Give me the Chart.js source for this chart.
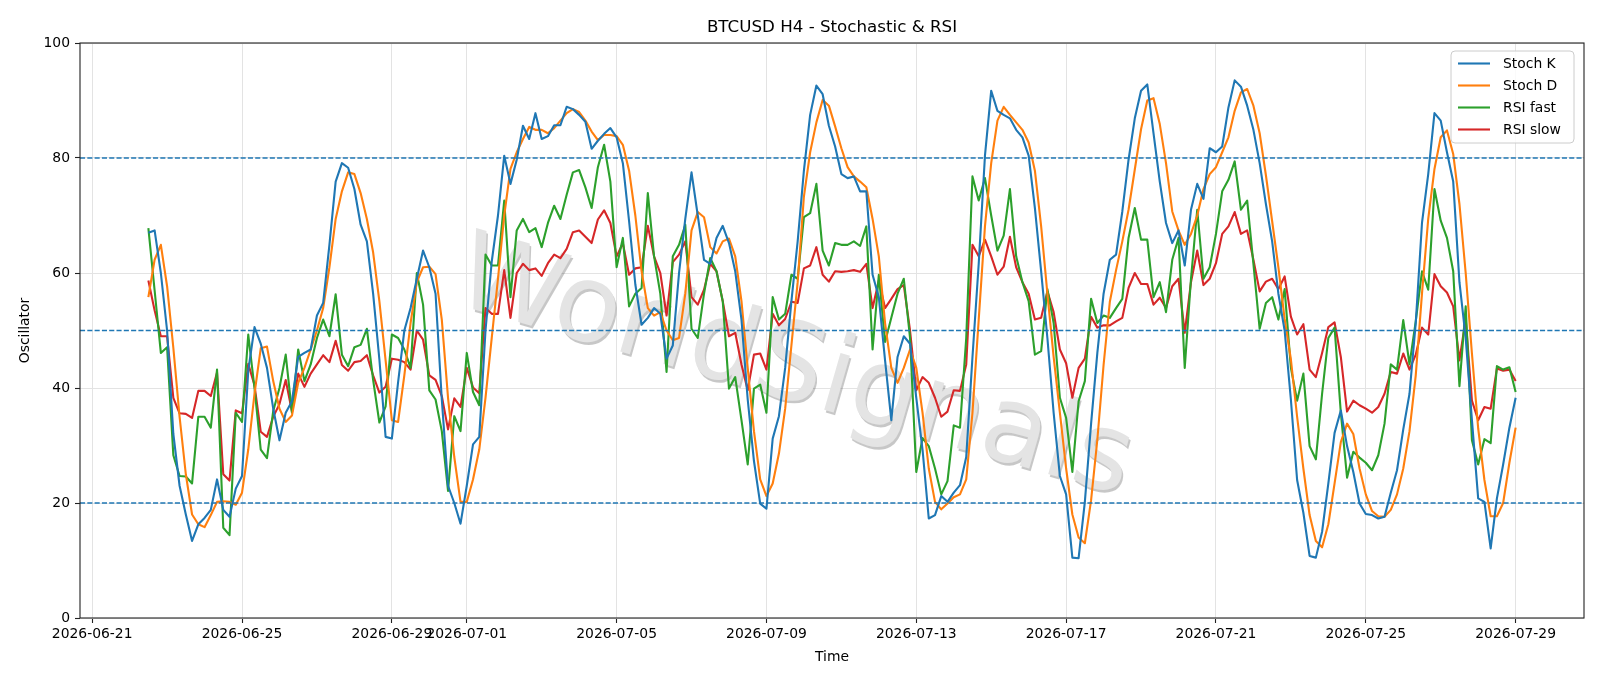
<!DOCTYPE html>
<html>
<head>
<meta charset="utf-8">
<title>BTCUSD H4 - Stochastic & RSI</title>
<script src="https://cdn.jsdelivr.net/npm/chart.js@4.4.1/dist/chart.umd.min.js"></script>
<style>
  html, body { margin: 0; padding: 0; background: #fff; }
  canvas { display: block; }
</style>
</head>
<body>
<canvas id="oscChart" width="1600" height="686"></canvas>
<script>
// H4 bars, first one at 2026-06-22 12:00 UTC
const firstBar = '2026-06-22T12:00:00Z';
const barHours = 4;

const tickLabels = ['2026-06-21', '2026-06-25', '2026-06-29', '2026-07-01', '2026-07-05', '2026-07-09',
    '2026-07-13', '2026-07-17', '2026-07-21', '2026-07-25', '2026-07-29'];
const yTicks = [0, 20, 40, 60, 80, 100];
const levels = [80, 50, 20];

const stochK = [
    67.0, 67.4, 60.0, 50.0, 32.0, 23.0, 18.0, 13.4, 16.3, 17.4, 18.8, 24.1,
    18.8, 17.6, 22.5, 24.7, 43.0, 50.6, 47.7, 43.5, 36.4, 30.9, 35.7, 37.7,
    45.4, 46.1, 46.7, 52.6, 54.8, 64.9, 75.9, 79.1, 78.3, 74.6, 68.4, 65.5,
    56.4, 45.0, 31.5, 31.2, 41.0, 50.0, 53.9, 59.0, 63.9, 61.0, 56.4, 38.0,
    23.0, 20.0, 16.4, 23.0, 30.2, 31.5, 50.0, 62.0, 70.0, 80.4, 75.5, 79.7,
    85.6, 83.3, 87.8, 83.3, 83.8, 85.7, 85.7, 88.9, 88.5, 87.5, 86.3, 81.6,
    83.0, 84.2, 85.2, 83.6, 79.1, 69.0, 58.0, 51.0, 52.2, 53.9, 52.9, 45.1,
    47.4, 60.0, 69.4, 77.5, 70.0, 62.3, 61.6, 66.1, 68.2, 65.2, 60.3, 51.9,
    38.0, 27.3, 19.9, 19.0, 31.2, 35.1, 43.5, 55.1, 65.5, 77.8, 87.5, 92.6,
    91.1, 85.6, 82.0, 77.2, 76.5, 76.8, 74.2, 74.2, 59.7, 55.8, 44.8, 34.4,
    45.4, 49.0, 47.7, 38.3, 29.3, 17.3, 17.9, 21.2, 20.2, 21.8, 23.1, 28.0,
    45.4, 61.6, 80.4, 91.7, 88.2, 87.5, 86.9, 84.9, 83.6, 80.4, 71.3, 60.3,
    48.7, 35.7, 24.7, 21.5, 10.5, 10.4, 20.2, 33.8, 46.1, 56.4, 62.3, 63.2,
    70.7, 79.7, 86.9, 91.7, 92.8, 84.3, 75.9, 68.7, 65.2, 67.4, 61.3, 71.0,
    75.5, 72.9, 81.7, 81.0, 82.0, 88.8, 93.5, 92.4, 89.1, 84.9, 79.1, 72.0,
    65.5, 56.4, 50.0, 38.0, 24.0, 18.3, 10.8, 10.5, 15.0, 23.4, 32.2, 36.1,
    29.9, 25.4, 19.9, 18.1, 17.9, 17.3, 17.6, 21.8, 25.7, 32.8, 39.0, 51.3,
    68.7, 77.2, 87.8, 86.5, 81.0, 75.9, 58.4, 48.7, 34.4, 20.8, 20.2, 12.1,
    20.8, 26.7, 33.1, 38.3
];

const stochD = [
    55.8, 62.3, 64.9, 57.7, 47.0, 35.0, 25.0, 18.0, 16.3, 15.8, 17.9, 20.2,
    20.3, 20.2, 19.7, 21.8, 29.3, 39.0, 46.9, 47.2, 41.2, 36.4, 34.1, 35.2,
    40.9, 43.5, 46.7, 50.0, 53.9, 61.0, 69.4, 74.2, 77.5, 77.2, 73.9, 69.4,
    63.6, 55.1, 44.8, 34.4, 34.1, 42.2, 51.3, 58.4, 61.0, 61.1, 59.8, 51.9,
    38.3, 28.0, 20.2, 20.2, 24.1, 29.3, 38.3, 48.7, 59.0, 70.0, 78.1, 81.0,
    83.3, 85.4, 84.9, 84.9, 84.3, 85.2, 86.5, 87.8, 88.5, 88.0, 86.5, 84.6,
    83.1, 84.0, 84.0, 83.8, 82.3, 77.8, 70.0, 60.3, 53.9, 52.6, 53.2, 50.0,
    48.3, 48.7, 56.4, 67.4, 70.6, 69.7, 64.5, 63.4, 65.5, 66.0, 62.9, 55.1,
    43.5, 32.5, 24.1, 21.2, 23.4, 28.6, 36.4, 47.4, 58.4, 73.3, 81.0, 86.2,
    90.1, 89.1, 85.5, 81.7, 78.4, 76.8, 75.9, 74.9, 69.4, 62.9, 51.3, 43.5,
    40.9, 43.5, 46.7, 43.5, 35.7, 26.0, 20.2, 18.9, 19.9, 21.0, 21.5, 24.1,
    35.7, 51.9, 68.1, 79.1, 86.5, 88.9, 87.5, 86.2, 84.9, 82.7, 77.8, 68.1,
    56.4, 45.4, 35.7, 26.0, 18.0, 14.0, 13.0, 20.5, 31.0, 44.0, 55.0, 60.5,
    65.5, 71.0, 78.0, 85.0, 90.0, 90.4, 85.9, 79.1, 70.7, 67.4, 64.9, 66.8,
    70.0, 74.6, 77.2, 78.4, 81.0, 83.6, 88.2, 91.4, 92.0, 89.1, 84.3, 77.0,
    69.0, 61.0, 52.0, 45.0, 35.0, 26.0, 17.9, 13.4, 12.3, 16.3, 23.4, 30.6,
    33.8, 32.0, 26.0, 21.5, 18.6, 17.7, 17.6, 18.8, 21.5, 26.0, 32.5, 42.2,
    56.4, 69.4, 78.1, 83.6, 84.8, 80.7, 72.0, 60.0, 46.0, 33.0, 24.0, 17.7,
    17.7, 20.0, 27.0, 33.1
];

const rsiFast = [
    67.8, 57.0, 46.1, 47.1, 28.3, 24.7, 24.6, 23.4, 35.0, 35.0, 33.1, 43.2,
    15.7, 14.4, 35.7, 34.1, 49.3, 40.0, 29.3, 27.8, 36.0, 40.0, 45.8, 35.7,
    46.7, 41.2, 44.1, 48.7, 51.9, 49.0, 56.3, 45.8, 43.8, 47.1, 47.5, 50.3,
    41.4, 34.0, 36.8, 49.3, 48.7, 46.7, 43.5, 60.0, 54.5, 39.6, 38.0, 32.5,
    22.1, 35.1, 32.5, 46.1, 39.3, 37.0, 63.2, 61.3, 61.3, 72.6, 55.8, 67.4,
    69.4, 67.1, 67.8, 64.5, 68.7, 71.7, 69.4, 73.6, 77.5, 77.9, 74.9, 71.3,
    78.4, 82.3, 75.9, 61.0, 66.1, 54.2, 56.4, 57.4, 73.9, 62.9, 56.4, 42.8,
    62.9, 64.9, 68.4, 50.3, 48.7, 56.4, 62.6, 60.3, 55.1, 39.9, 41.9, 34.4,
    26.7, 39.9, 40.6, 35.7, 55.8, 51.9, 52.9, 59.7, 59.0, 69.7, 70.4, 75.5,
    63.9, 61.3, 65.2, 64.9, 64.9, 65.5, 64.7, 68.1, 46.7, 59.7, 48.0, 52.2,
    56.4, 59.0, 48.7, 25.4, 31.3, 29.9, 26.0, 21.5, 23.8, 33.5, 33.1, 48.7,
    76.8, 72.6, 76.5, 70.0, 63.9, 66.5, 74.6, 62.9, 58.4, 55.1, 45.8, 46.4,
    57.2, 51.3, 38.3, 34.8, 25.4, 37.7, 41.2, 55.5, 51.3, 52.6, 52.2, 53.9,
    55.5, 66.1, 71.3, 65.8, 65.8, 55.8, 58.4, 53.2, 62.3, 66.1, 43.5, 59.0,
    71.0, 59.0, 61.0, 66.8, 74.2, 76.2, 79.4, 71.0, 72.6, 61.6, 50.3, 54.8,
    55.8, 51.9, 57.2, 43.5, 37.8, 42.5, 29.9, 27.6, 39.0, 48.7, 50.5, 35.7,
    24.4, 28.9, 27.9, 27.0, 25.7, 28.3, 33.8, 44.1, 43.2, 51.8, 44.1, 51.6,
    60.3, 57.1, 74.6, 69.1, 66.1, 60.3, 40.3, 54.2, 30.9, 26.7, 31.1, 30.4,
    43.8, 43.2, 43.6, 39.3
];

const rsiSlow = [
    58.7, 53.5, 49.0, 49.0, 38.3, 35.6, 35.5, 34.8, 39.5, 39.5, 38.6, 42.7,
    25.0, 23.9, 36.1, 35.6, 44.2, 40.5, 32.4, 31.5, 35.0, 37.2, 41.4, 35.9,
    42.5, 40.2, 42.5, 44.1, 45.7, 44.5, 48.2, 44.0, 43.0, 44.5, 44.7, 45.7,
    42.2, 39.2, 40.2, 45.1, 44.9, 44.5, 43.2, 50.0, 48.4, 42.2, 41.4, 38.6,
    32.8, 38.2, 36.7, 43.5, 40.1, 39.1, 53.9, 52.9, 52.9, 60.5, 52.2, 60.0,
    61.6, 60.5, 60.8, 59.5, 61.7, 63.2, 62.6, 64.2, 67.1, 67.4, 66.3, 65.2,
    69.3, 70.9, 68.7, 62.9, 65.2, 59.7, 60.8, 61.0, 68.2, 62.9, 60.0, 52.6,
    61.9, 63.2, 65.5, 55.8, 54.5, 57.1, 61.6, 60.3, 55.1, 49.0, 49.6, 44.1,
    39.6, 45.8, 46.0, 43.2, 52.9, 50.9, 52.0, 55.0, 54.8, 60.8, 61.3, 64.5,
    59.7, 58.5, 60.3, 60.2, 60.3, 60.5, 60.2, 61.6, 53.9, 58.7, 53.9, 55.5,
    57.2, 57.9, 50.0, 39.6, 41.9, 40.9, 38.3, 35.0, 35.9, 39.6, 39.5, 44.1,
    64.9, 62.9, 65.8, 62.9, 59.7, 61.1, 66.3, 61.0, 58.4, 56.4, 51.9, 52.2,
    56.8, 53.2, 46.7, 44.3, 38.3, 43.5, 45.1, 52.4, 50.5, 50.9, 50.9, 51.6,
    52.2, 57.4, 60.0, 58.1, 58.1, 54.5, 55.7, 53.9, 57.7, 59.0, 49.6, 58.4,
    63.9, 57.9, 59.0, 61.7, 66.8, 68.1, 70.6, 66.8, 67.4, 62.3, 56.8, 58.5,
    59.0, 57.2, 59.4, 52.4, 49.3, 51.1, 43.2, 41.9, 46.1, 50.6, 51.4, 45.4,
    35.9, 37.8, 37.0, 36.4, 35.7, 36.7, 39.0, 42.8, 42.5, 46.0, 43.2, 45.8,
    50.5, 49.3, 59.8, 57.7, 56.6, 54.2, 44.8, 52.0, 37.8, 34.4, 36.7, 36.4,
    43.4, 43.0, 43.2, 41.2
];

const series = [
    { label: 'Stoch K', values: stochK, color: '#1f77b4' },
    { label: 'Stoch D', values: stochD, color: '#ff7f0e' },
    { label: 'RSI fast', values: rsiFast, color: '#2ca02c' },
    { label: 'RSI slow', values: rsiSlow, color: '#d62728' }
];

const FONT = "'DejaVu Sans', sans-serif";
const DAY = 86400000;
const origin = Date.parse(tickLabels[0] + 'T00:00:00Z');

// x axis in days since the first tick date
function toDays(ms) {
    return (ms - origin) / DAY;
}

const barStart = toDays(Date.parse(firstBar));
const barStep = barHours / 24;
const tickDays = tickLabels.map(t => toDays(Date.parse(t + 'T00:00:00Z')));

// matplotlib style 5% margins around the data
const lastBar = barStart + (stochK.length - 1) * barStep;
const span = lastBar - barStart;
const xMin = barStart - span * 0.05;
const xMax = lastBar + span * 0.05;

function toPoints(values) {
    return values.map((v, i) => ({ x: barStart + i * barStep, y: v }));
}

const watermarkPlugin = {
    id: 'watermark',
    beforeDatasetsDraw(chart) {
        const ctx = chart.ctx;
        ctx.save();
        ctx.translate(794, 372);
        ctx.rotate(16 * Math.PI / 180);
        ctx.font = '108px ' + FONT;
        ctx.textAlign = 'center';
        ctx.textBaseline = 'middle';
        ctx.fillStyle = 'rgba(0, 0, 0, 0.22)';
        ctx.fillText('WorldSignals', 2.2, 2.2);
        ctx.fillStyle = '#e4e4e4';
        ctx.fillText('WorldSignals', 0, 0);
        ctx.restore();
    }
};

const levelsPlugin = {
    id: 'levels',
    afterDatasetsDraw(chart) {
        const { ctx, chartArea, scales } = chart;
        ctx.save();
        ctx.strokeStyle = '#1f77b4';
        ctx.lineWidth = 1.3;
        ctx.setLineDash([5.1, 2.2]);
        levels.forEach(level => {
            const y = scales.y.getPixelForValue(level);
            ctx.beginPath();
            ctx.moveTo(chartArea.left, y);
            ctx.lineTo(chartArea.right, y);
            ctx.stroke();
        });
        ctx.setLineDash([]);

        // axes frame
        ctx.strokeStyle = '#222';
        ctx.lineWidth = 1.1;
        ctx.strokeRect(chartArea.left, chartArea.top, chartArea.right - chartArea.left, chartArea.bottom - chartArea.top);
        ctx.restore();
    }
};

const labelsPlugin = {
    id: 'labels',
    afterDraw(chart) {
        const { ctx, chartArea } = chart;
        const midX = (chartArea.left + chartArea.right) / 2;
        const midY = (chartArea.top + chartArea.bottom) / 2;
        ctx.save();
        ctx.fillStyle = '#000';
        ctx.textAlign = 'center';
        ctx.textBaseline = 'alphabetic';
        ctx.font = '16.7px ' + FONT;
        ctx.fillText('BTCUSD H4 - Stochastic & RSI', midX, 32);
        ctx.font = '13.9px ' + FONT;
        ctx.fillText('Time', midX, 661);
        ctx.translate(29, midY);
        ctx.rotate(-Math.PI / 2);
        ctx.fillText('Oscillator', 0, 0);
        ctx.restore();

        // legend, upper right inside the axes
        const box = { x: 1451, y: 51, w: 123, h: 92 };
        ctx.save();
        ctx.beginPath();
        ctx.roundRect(box.x, box.y, box.w, box.h, 4);
        ctx.fillStyle = 'rgba(255, 255, 255, 0.8)';
        ctx.fill();
        ctx.strokeStyle = '#cccccc';
        ctx.lineWidth = 1;
        ctx.stroke();
        ctx.font = '13.9px ' + FONT;
        ctx.textAlign = 'left';
        ctx.textBaseline = 'middle';
        series.forEach((s, i) => {
            const y = 63.5 + i * 22;
            ctx.strokeStyle = s.color;
            ctx.lineWidth = 2.1;
            ctx.beginPath();
            ctx.moveTo(1458, y);
            ctx.lineTo(1490, y);
            ctx.stroke();
            ctx.fillStyle = '#000';
            ctx.fillText(s.label, 1503, y + 1);
        });
        ctx.restore();
    }
};

const gridStyle = {
    color: '#e3e3e3',
    lineWidth: 1,
    tickColor: '#222',
    tickLength: 5,
    tickWidth: 1.1
};

new Chart(document.getElementById('oscChart'), {
    type: 'line',
    data: {
        datasets: series.map(s => ({
            label: s.label,
            data: toPoints(s.values),
            borderColor: s.color,
            backgroundColor: s.color,
            borderWidth: 2.1,
            borderJoinStyle: 'round',
            pointRadius: 0,
            tension: 0,
            fill: false
        }))
    },
    options: {
        responsive: false,
        animation: false,
        devicePixelRatio: 1,
        layout: { padding: { top: 43, right: 16, bottom: 0, left: 0 } },
        plugins: {
            legend: { display: false },
            title: { display: false },
            tooltip: { enabled: false }
        },
        scales: {
            x: {
                type: 'linear',
                min: xMin,
                max: xMax,
                afterFit: scale => { scale.height = 68; },
                afterBuildTicks: scale => { scale.ticks = tickDays.map(v => ({ value: v })); },
                ticks: {
                    autoSkip: false,
                    maxRotation: 0,
                    minRotation: 0,
                    padding: 3,
                    color: '#000',
                    font: { family: FONT, size: 13.9 },
                    callback: value => {
                        const idx = tickDays.findIndex(d => Math.abs(d - value) < 1e-6);
                        return idx >= 0 ? tickLabels[idx] : '';
                    }
                },
                grid: gridStyle,
                border: { display: false }
            },
            y: {
                min: yTicks[0],
                max: yTicks[yTicks.length - 1],
                afterFit: scale => { scale.width = 80; },
                afterBuildTicks: scale => { scale.ticks = yTicks.map(v => ({ value: v })); },
                ticks: {
                    padding: 5,
                    color: '#000',
                    font: { family: FONT, size: 13.9 }
                },
                grid: gridStyle,
                border: { display: false }
            }
        }
    },
    plugins: [watermarkPlugin, levelsPlugin, labelsPlugin]
});
</script>
</body>
</html>
